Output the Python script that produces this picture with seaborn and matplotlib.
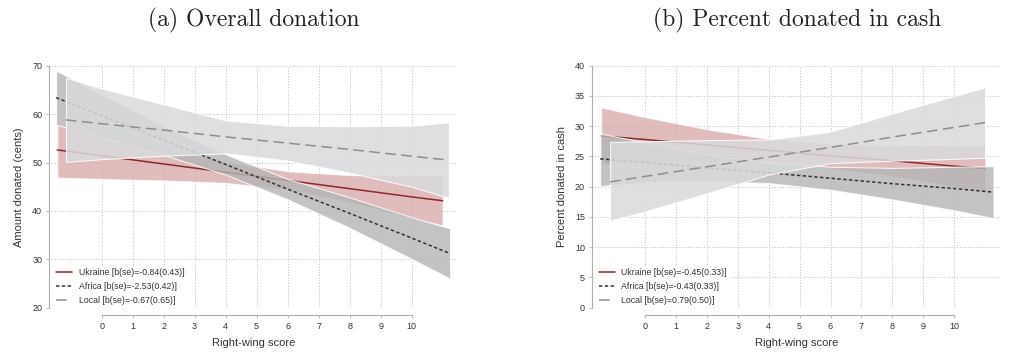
import numpy as np
import pandas as pd
import matplotlib
matplotlib.use("Agg")
import matplotlib.pyplot as plt
import seaborn as sns

# ---- values (fitted lines and 95% bands) ----
# (a) Overall donation
a_ukr_x = [-1.43, 0, 2, 4, 6, 8, 10, 11.0]
a_ukr_y = [52.6, 51.4, 49.7, 48.0, 46.3, 44.6, 42.9, 42.1]
a_ukr_lo = [46.9, 46.6, 46.3, 45.8, 44.4, 41.8, 38.5, 37.0]
a_ukr_hi = [57.8, 56.0, 53.0, 50.2, 48.2, 47.4, 47.3, 47.3]

a_afr_x = [-1.47, 0, 2, 4, 6, 8, 10, 11.24]
a_afr_y = [63.4, 59.7, 54.6, 49.6, 44.5, 39.5, 34.4, 31.2]
a_afr_lo = [57.8, 55.3, 51.6, 47.5, 42.4, 36.5, 30.1, 26.0]
a_afr_hi = [69.0, 64.1, 57.6, 51.7, 46.6, 42.8, 38.7, 36.4]

a_loc_x = [-1.15, 0, 2, 4, 6, 8, 10, 11.2]
a_loc_y = [58.8, 58.0, 56.7, 55.3, 54.0, 52.7, 51.3, 50.5]
a_loc_lo = [50.1, 50.7, 51.4, 51.9, 50.4, 47.9, 45.0, 42.7]
a_loc_hi = [67.5, 65.3, 62.0, 58.7, 57.6, 57.5, 57.6, 58.3]

# (b) Percent donated in cash
b_ukr_x = [-1.42, 0, 2, 4, 6, 8, 10, 11.01]
b_ukr_y = [28.4, 27.8, 26.9, 26.0, 25.1, 24.3, 23.4, 23.0]
b_ukr_lo = [23.7, 24.1, 24.3, 24.1, 23.1, 21.7, 20.0, 19.2]
b_ukr_hi = [33.1, 31.5, 29.5, 27.9, 27.1, 26.9, 26.8, 26.8]

b_afr_x = [-1.45, 0, 2, 4, 6, 8, 10, 11.27]
b_afr_y = [24.6, 24.0, 23.1, 22.3, 21.4, 20.5, 19.7, 19.1]
b_afr_lo = [20.1, 20.7, 20.9, 20.6, 19.5, 17.9, 16.1, 14.8]
b_afr_hi = [28.8, 27.3, 25.3, 24.0, 23.3, 23.1, 23.3, 23.4]

b_loc_x = [-1.13, 0, 2, 4, 6, 8, 10, 11.0]
b_loc_y = [20.8, 21.7, 23.3, 24.9, 26.5, 28.2, 29.8, 30.6]
b_loc_lo = [14.4, 15.9, 18.9, 22.0, 23.9, 24.3, 24.6, 24.8]
b_loc_hi = [27.4, 27.5, 27.7, 27.8, 29.1, 32.1, 35.0, 36.4]

labels_a = ["Ukraine [b(se)=-0.84(0.43)]", "Africa [b(se)=-2.53(0.42)]", "Local [b(se)=-0.67(0.65)]"]
labels_b = ["Ukraine [b(se)=-0.45(0.33)]", "Africa [b(se)=-0.43(0.33)]", "Local [b(se)=0.79(0.50)]"]

sns.set_style("white")
plt.rcParams["font.family"] = ["Liberation Sans", "DejaVu Sans"]

# styles: line colour, fill colour, fill alpha, linestyle
styles = [
    ("#8b2a2a", "#d6a3a4", 0.72, "-"),
    ("#333333", "#b5b5b5", 0.8, (0, (2.2, 1.6))),
    ("#8e8e8e", "#d9dadc", 0.86, (0, (7, 3.5))),
]

fig = plt.figure(figsize=(10.24, 3.57), dpi=100)
ax_a = fig.add_axes([0.0481, 0.138, 0.399, 0.678])
ax_b = fig.add_axes([0.578, 0.138, 0.400, 0.678])

panels = [
    (ax_a, [(a_ukr_x, a_ukr_y, a_ukr_lo, a_ukr_hi), (a_afr_x, a_afr_y, a_afr_lo, a_afr_hi),
            (a_loc_x, a_loc_y, a_loc_lo, a_loc_hi)], labels_a, (20, 70), range(20, 71, 10),
     (-1.69, 11.49), "Amount donated (cents)"),
    (ax_b, [(b_ukr_x, b_ukr_y, b_ukr_lo, b_ukr_hi), (b_afr_x, b_afr_y, b_afr_lo, b_afr_hi),
            (b_loc_x, b_loc_y, b_loc_lo, b_loc_hi)], labels_b, (0, 40), range(0, 41, 5),
     (-1.72, 11.53), "Percent donated in cash"),
]

for ax, series, labels, ylim, yticks, xlim, ylab in panels:
    ax.set_axisbelow(True)
    ax.grid(True, linestyle=(0, (1, 1.8)), color="#bdbdbd", linewidth=0.7)
    handles = []
    for k, ((x, y, lo, hi), lab, (lc, fc, fa, ls)) in enumerate(zip(series, labels, styles)):
        ax.fill_between(x, lo, hi, color=fc, alpha=fa, edgecolor="white", linewidth=0.8,
                        zorder=2 + 2 * k)
        df = pd.DataFrame({"x": x, "y": y})
        sns.lineplot(data=df, x="x", y="y", ax=ax, color=lc, linestyle=ls, linewidth=1.1,
                     zorder=3 + 2 * k)
        handles.append(plt.Line2D([], [], color=lc, linestyle=ls, linewidth=1.1, label=lab))
    ax.set_xlim(*xlim)
    ax.set_ylim(*ylim)
    ax.set_xticks(range(0, 11))
    ax.set_yticks(list(yticks))
    for s in ["top", "right"]:
        ax.spines[s].set_visible(False)
    ax.spines["bottom"].set_position(("outward", 5))
    ax.spines["bottom"].set_bounds(0, 10)
    ax.spines["left"].set_bounds(ylim[0], ylim[1])
    for s in ["bottom", "left"]:
        ax.spines[s].set_color("#b0b0b0")
        ax.spines[s].set_linewidth(0.8)
    ax.tick_params(axis="both", labelsize=6.5, length=2.5, width=0.6, color="#b0b0b0",
                   labelcolor="#333333", pad=2.5, direction="out", bottom=True, left=True)
    ax.set_xlabel("Right-wing score", fontsize=8, color="#333333", labelpad=5)
    ax.set_ylabel(ylab, fontsize=8, color="#333333", labelpad=6)
    leg = ax.legend(handles=handles, loc="lower left", fontsize=6.3, frameon=True,
                    facecolor="white", edgecolor="none", framealpha=1, handlelength=1.85,
                    handletextpad=0.75, labelspacing=0.55, borderaxespad=0, borderpad=0.3,
                    bbox_to_anchor=(0.01, 0.0))
    leg.set_zorder(20)
    for t in leg.get_texts():
        t.set_color("#333333")

fig.text(0.2475, 0.944, "(a) Overall donation", family="cmr10", fontsize=17,
         ha="center", va="center", color="#222222")
fig.text(0.778, 0.944, "(b) Percent donated in cash", family="cmr10", fontsize=17,
         ha="center", va="center", color="#222222")

fig.savefig("out.png", dpi=100)
